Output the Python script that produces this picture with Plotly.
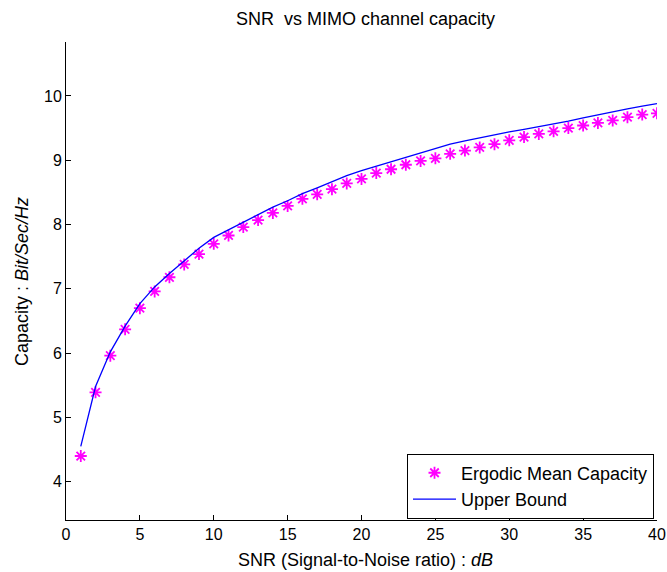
import plotly.graph_objects as go

# ---- data ----
snr_db = [1, 2, 3, 4, 5, 6, 7, 8, 9, 10,
          11, 12, 13, 14, 15, 16, 17, 18, 19, 20,
          21, 22, 23, 24, 25, 26, 27, 28, 29, 30,
          31, 32, 33, 34, 35, 36, 37, 38, 39, 40]

ergodic_capacity = [4.40, 5.39, 5.96, 6.37, 6.70, 6.96, 7.18, 7.38, 7.54, 7.70,
                    7.83, 7.96, 8.07, 8.18, 8.29, 8.40, 8.47, 8.55, 8.64, 8.71,
                    8.80, 8.86, 8.93, 8.99, 9.03, 9.10, 9.15, 9.20, 9.25, 9.31,
                    9.36, 9.41, 9.45, 9.50, 9.54, 9.58, 9.62, 9.67, 9.71, 9.73]

upper_bound = [4.55, 5.48, 6.02, 6.42, 6.77, 7.03, 7.24, 7.44, 7.63, 7.80,
               7.92, 8.04, 8.15, 8.27, 8.37, 8.48, 8.57, 8.67, 8.76, 8.84,
               8.91, 8.98, 9.05, 9.12, 9.19, 9.25, 9.30, 9.35, 9.39, 9.44,
               9.48, 9.52, 9.57, 9.61, 9.66, 9.71, 9.75, 9.80, 9.84, 9.88]

x_ticks = [0, 5, 10, 15, 20, 25, 30, 35, 40]
y_ticks = [4, 5, 6, 7, 8, 9, 10]

title_text = "SNR\u00a0 vs MIMO channel capacity"
x_label = "SNR (Signal-to-Noise ratio) : <i>dB</i>"
y_label = "Capacity : <i>Bit/Sec/Hz</i>"

FONT = "Liberation Sans, Arial, sans-serif"

fig = go.Figure()
fig.add_trace(go.Scatter(
    x=snr_db, y=ergodic_capacity, mode="markers",
    name="Ergodic Mean Capacity",
    marker=dict(symbol="asterisk-open", size=10, color="#FF00FF",
                line=dict(color="#FF00FF", width=1.8)),
))
fig.add_trace(go.Scatter(
    x=snr_db, y=upper_bound, mode="lines",
    name="Upper Bound",
    line=dict(color="#0000FF", width=1.3),
))

axis_common = dict(
    showline=True, linecolor="black", linewidth=1,
    ticks="inside", ticklen=5, tickcolor="black", tickwidth=1,
    showgrid=False, zeroline=False, mirror=False, automargin=False,
    tickfont=dict(family=FONT, size=16, color="black"),
)

fig.update_layout(
    width=667, height=572,
    margin=dict(l=66, r=10, t=42, b=52),
    paper_bgcolor="white", plot_bgcolor="white",
    font=dict(family=FONT, size=16, color="black"),
    showlegend=True,
    legend=dict(
        x=0.577, y=0.139, xanchor="left", yanchor="top",
        bgcolor="white", bordercolor="black", borderwidth=1,
        font=dict(family=FONT, size=18, color="black"),
        itemwidth=43, tracegroupgap=0,
    ),
    xaxis=dict(range=[0, 40], tickvals=x_ticks, **axis_common),
    yaxis=dict(range=[3.405, 10.839], tickvals=y_ticks, **axis_common),
    annotations=[
        dict(text=title_text, xref="paper", yref="paper",
             x=0.506, y=1.049, xanchor="center", yanchor="middle",
             showarrow=False, font=dict(family=FONT, size=18, color="black")),
        dict(text=x_label, xref="paper", yref="paper",
             x=0.507, y=-0.0837, xanchor="center", yanchor="middle",
             showarrow=False, font=dict(family=FONT, size=18, color="black")),
        dict(text=y_label, xref="paper", yref="paper",
             x=-0.0745, y=0.5, xanchor="center", yanchor="middle",
             textangle=-90,
             showarrow=False, font=dict(family=FONT, size=18, color="black")),
    ],
)

fig.write_html("out.html")
